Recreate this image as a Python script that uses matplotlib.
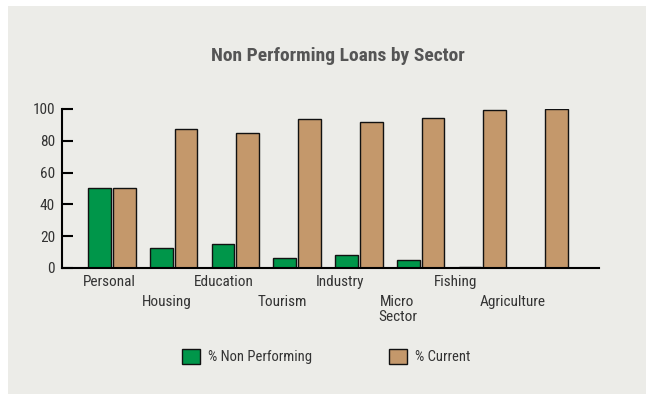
import matplotlib
matplotlib.use("Agg")
import matplotlib.pyplot as plt
import numpy as np
from matplotlib.patches import Rectangle

sectors = ["Personal", "Housing", "Education", "Tourism", "Industry",
           "Micro\nSector", "Fishing", "Agriculture"]
non_performing = [50, 12.5, 15, 6.5, 8, 5, 0.5, 0.2]
current = [50, 87.5, 85, 93.5, 91.5, 94.5, 99.5, 100]
y_ticks = [0, 20, 40, 60, 80, 100]

green = "#00964A"
tan = "#C4986B"
panel = "#ECECE8"
text_col = "#333333"

plt.rcParams['font.family'] = ['Roboto Condensed', 'Barlow Semi Condensed',
                               'PT Sans Narrow', 'Archivo Narrow', 'DejaVu Sans']

fig = plt.figure(figsize=(6.46, 3.94), dpi=100, facecolor="white")
# grey panel behind everything
fig.patches.append(Rectangle((8 / 646, 0), 1, 1 - 6 / 394, transform=fig.transFigure,
                             facecolor=panel, edgecolor="none", zorder=-10))

ax = fig.add_axes([0.096, 0.3198, 0.831, 0.4036])
ax.set_facecolor("none")

x = np.arange(len(sectors))
w = 0.368
ax.bar(x - 0.2, non_performing, w, color=green, edgecolor="#111111", linewidth=1.0)
ax.bar(x + 0.2, current, w, color=tan, edgecolor="#111111", linewidth=1.0)

ax.set_xlim(-0.81, 7.89)
ax.set_ylim(0, 100)
ax.set_yticks(y_ticks)
ax.tick_params(axis="y", direction="in", length=8, width=1.5, pad=5,
               labelsize=11, labelcolor=text_col)
ax.set_xticks([])
for side in ["top", "right"]:
    ax.spines[side].set_visible(False)
ax.spines["left"].set_linewidth(1.5)
ax.spines["bottom"].set_linewidth(1.5)

# staggered category labels below the axis
for i, name in enumerate(sectors):
    lx = i * 0.935 - 0.05
    ly = -0.045 if i % 2 == 0 else -0.17
    ax.text(lx, ly, name, transform=ax.get_xaxis_transform(), ha="center", va="top",
            multialignment="center", fontsize=11, color=text_col, linespacing=1.05)

fig.text(0.523, 0.857, "Non Performing Loans by Sector", ha="center", va="center",
         fontsize=14, fontweight="bold", color="#555555")

handles = [Rectangle((0, 0), 1, 1, facecolor=green, edgecolor="#111111", linewidth=1.0),
           Rectangle((0, 0), 1, 1, facecolor=tan, edgecolor="#111111", linewidth=1.0)]
fig.legend(handles, ["% Non Performing", "% Current"], loc="center",
           bbox_to_anchor=(0.505, 0.095), ncol=2, frameon=False, fontsize=10.5,
           handlelength=1.2, handleheight=1.2, handletextpad=0.55,
           columnspacing=5.3, labelcolor=text_col)

fig.savefig("out.png", dpi=100, facecolor=fig.get_facecolor())
